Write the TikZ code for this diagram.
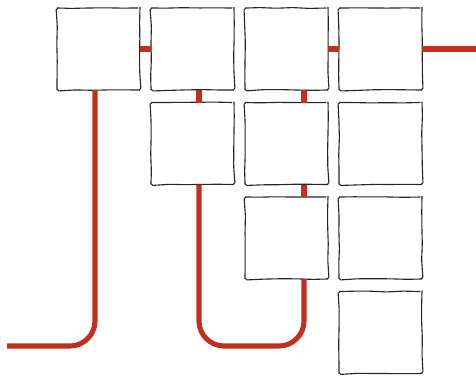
\documentclass[tikz,border=0pt]{standalone}
\usepackage{tikz}
\usetikzlibrary{positioning,calc,decorations.pathmorphing}
\definecolor{wirered}{HTML}{C2301D}
\definecolor{inkgrey}{HTML}{262626}
\tikzset{
  % rutor
  cell/.style={draw=inkgrey,fill=white,line width=0.95pt,inner sep=0pt,outer sep=0pt,
               minimum width=24.9mm,minimum height=24.6mm,
               decorate,decoration={random steps,segment length=5mm,amplitude=0.35pt},
               rounded corners=1.5pt},
  % ledning
  wire/.style={draw=wirered,line width=4.3pt,rounded corners=7.5mm},
}
\begin{document}
\begin{tikzpicture}[x=0.03cm,y=0.03cm,node distance=3.75mm and 3.3mm]
  \pgfmathsetseed{7}
  \useasboundingbox (0,0) rectangle (476,-379);
  \coordinate (ut)  at (476,-49);
  \coordinate (vl)  at (7,-346);
  % rad 1
  \node[cell] (b11) at (98.5,-49) {};
  \node[cell,right=of b11] (b12) {};
  \node[cell,right=of b12] (b13) {};
  \node[cell,right=of b13] (b14) {};
  % rad 2
  \node[cell,below=of b12] (b22) {};
  \node[cell,below=of b13] (b23) {};
  \node[cell,below=of b14] (b24) {};
  % rad 3
  \node[cell,below=of b23] (b33) {};
  \node[cell,below=of b24] (b34) {};
  % rad 4
  \node[cell,below=of b34] (b44) {};
  % fästpunkter
  \coordinate (k1) at ($(b11.south)+(-3.5,0)$);
  \coordinate (k2) at ($(b22.south)+(6.5,0)$);
  \coordinate (k3) at ($(b33.south)+(17.5,0)$);
  \coordinate (hk) at (k3 |- vl);
  % vågräta
  \draw[wire] (b11.east) -- (b12.west);
  \draw[wire] (b13.east) -- (b14.west);
  \draw[wire] (b14.east) -- (ut);
  % lodräta
  \draw[wire] ($(b12.south)+(6.5,0)$) -- ($(b22.north)+(6.5,0)$);
  \draw[wire] ($(b13.south)+(17.5,0)$) -- ($(b23.north)+(17.5,0)$);
  \draw[wire] ($(b23.south)+(17.5,0)$) -- ($(b33.north)+(17.5,0)$);
  % kurvor
  \draw[wire] (k1) |- (vl);
  \draw[wire] (k2) |- (hk) -- (k3);
\end{tikzpicture}
\end{document}
